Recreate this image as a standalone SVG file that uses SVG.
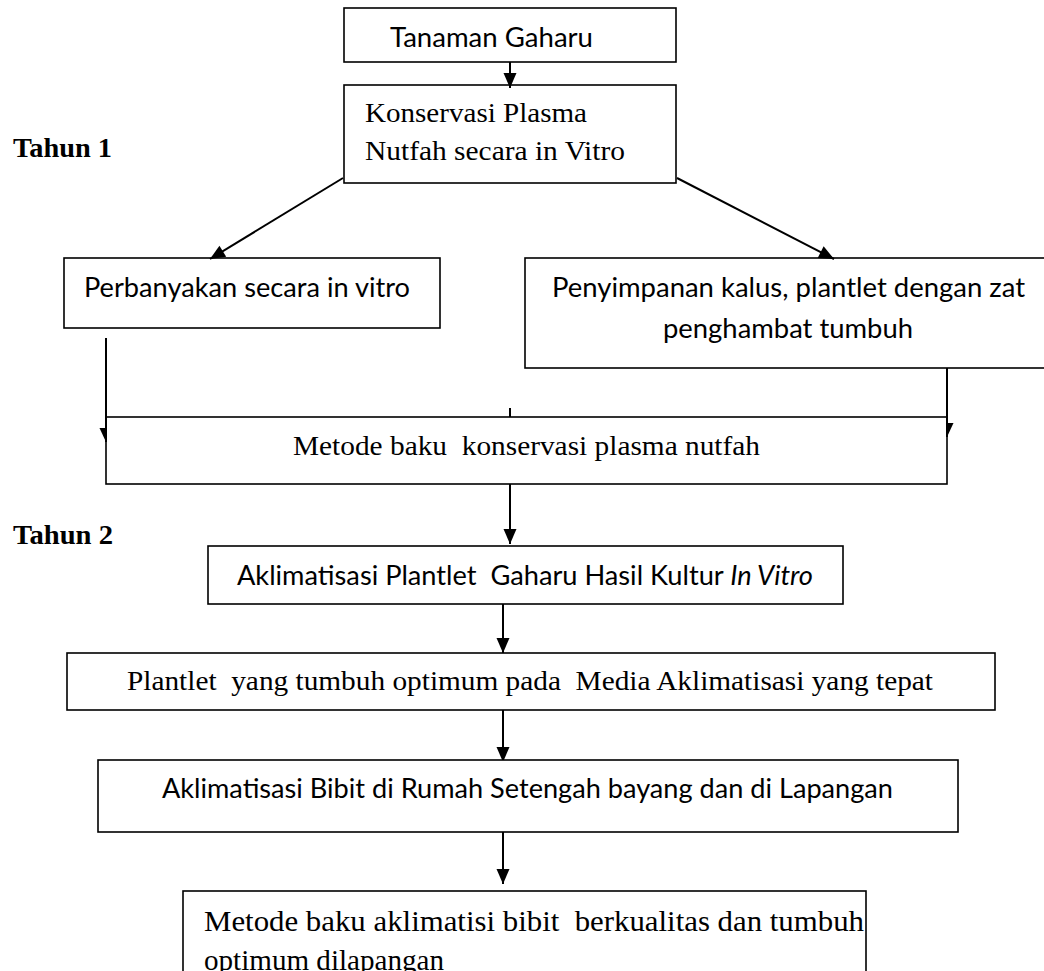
<svg xmlns="http://www.w3.org/2000/svg" width="1044" height="971" viewBox="0 0 1044 971">
<style>
.box{fill:#fff;stroke:#000;stroke-width:1.6}
.ln{fill:none;stroke:#000;stroke-width:2}
.cal{font-family:Lato,"Liberation Sans",sans-serif;font-size:27px;fill:#000}
.tnr{font-family:"Liberation Serif","Times New Roman",serif;font-size:28px;fill:#000}
.tall{font-size:30px}
.lbl{font-family:"Liberation Serif","Times New Roman",serif;font-size:28px;font-weight:bold;fill:#000}
</style>
<defs>
<marker id="ah" markerUnits="userSpaceOnUse" markerWidth="16" markerHeight="14" refX="15" refY="0" viewBox="0 -7 16 14" orient="auto" overflow="visible"><path d="M0,-6.5 L15,0 L0,6.5 z" fill="#000"/></marker>
<marker id="ahL" markerUnits="userSpaceOnUse" markerWidth="16" markerHeight="14" refX="14" refY="0" viewBox="0 -7 16 14" orient="auto" overflow="visible"><path d="M0,0 L14,0 L0,6.5 z" fill="#000"/></marker>
<marker id="ahR" markerUnits="userSpaceOnUse" markerWidth="16" markerHeight="14" refX="14" refY="0" viewBox="0 -7 16 14" orient="auto" overflow="visible"><path d="M0,-6.5 L14,0 L0,0 z" fill="#000"/></marker>
</defs>
<rect width="1044" height="971" fill="#fff"/>
<g id="labels">
<text class="lbl" x="13" y="157" textLength="99" lengthAdjust="spacingAndGlyphs">Tahun 1</text>
<text class="lbl" x="13" y="544" textLength="100" lengthAdjust="spacingAndGlyphs">Tahun 2</text>
</g>
<g id="n-tanaman">
<rect class="box" x="344" y="8" width="332" height="54"/>
<text class="cal" x="390" y="47" textLength="203" lengthAdjust="spacingAndGlyphs">Tanaman Gaharu</text>
</g>
<g id="n-konservasi">
<rect class="box" x="344" y="85" width="332" height="98"/>
<text class="tnr" x="365" y="122" textLength="222" lengthAdjust="spacingAndGlyphs">Konservasi Plasma</text>
<text class="tnr" x="365" y="160" textLength="260" lengthAdjust="spacingAndGlyphs">Nutfah secara in Vitro</text>
</g>
<g id="n-perbanyakan">
<rect class="box" x="64" y="258" width="376" height="70"/>
<text class="cal" x="84" y="297" textLength="326" lengthAdjust="spacingAndGlyphs">Perbanyakan secara in vitro</text>
</g>
<g id="n-penyimpanan">
<rect class="box" x="525" y="258" width="520" height="110"/>
<text class="cal" x="552" y="297" textLength="473" lengthAdjust="spacingAndGlyphs">Penyimpanan kalus, plantlet dengan zat</text>
<text class="cal" x="663" y="338" textLength="250" lengthAdjust="spacingAndGlyphs">penghambat tumbuh</text>
</g>
<g id="connectors">
<line class="ln" x1="510" y1="62" x2="510" y2="88" marker-end="url(#ah)"/>
<line class="ln" x1="343" y1="178" x2="210" y2="259" marker-end="url(#ah)"/>
<line class="ln" x1="677" y1="178" x2="834" y2="259" marker-end="url(#ah)"/>
<line class="ln" x1="106" y1="338" x2="106" y2="442" marker-end="url(#ahL)"/>
<line class="ln" x1="947" y1="368" x2="947" y2="437" marker-end="url(#ahR)"/>
<line class="ln" x1="510" y1="408" x2="510" y2="417"/>
<line class="ln" x1="510" y1="484" x2="510" y2="544" marker-end="url(#ah)"/>
<line class="ln" x1="503" y1="604" x2="503" y2="653" marker-end="url(#ah)"/>
<line class="ln" x1="503" y1="710" x2="503" y2="762" marker-end="url(#ah)"/>
<line class="ln" x1="503" y1="832" x2="503" y2="884" marker-end="url(#ah)"/>
</g>
<g id="n-metode">
<rect class="box" x="106" y="417" width="841" height="67" style="fill:none"/>
<text class="tnr" x="293" y="455" textLength="467" lengthAdjust="spacingAndGlyphs" xml:space="preserve">Metode baku  konservasi plasma nutfah</text>
</g>
<g id="n-aklimatisasi-plantlet">
<rect class="box" x="208" y="546" width="635" height="58"/>
<text class="cal" x="237" y="585" textLength="576" lengthAdjust="spacingAndGlyphs" xml:space="preserve">Aklimatisasi Plantlet  Gaharu Hasil Kultur <tspan font-style="italic">In Vitro</tspan></text>
</g>
<g id="n-plantlet">
<rect class="box" x="67" y="653" width="928" height="57"/>
<text class="tnr" x="127" y="690" textLength="806" lengthAdjust="spacingAndGlyphs" xml:space="preserve">Plantlet  yang tumbuh optimum pada  Media Aklimatisasi yang tepat</text>
</g>
<g id="n-aklimatisasi-bibit">
<rect class="box" x="98" y="760" width="860" height="72"/>
<text class="cal" x="162" y="798" textLength="731" lengthAdjust="spacingAndGlyphs">Aklimatisasi Bibit di Rumah Setengah bayang dan di Lapangan</text>
</g>
<g id="n-metode-aklimatisasi">
<rect class="box" x="183" y="891" width="683" height="100"/>
<text class="tnr tall" x="204" y="931" textLength="660" lengthAdjust="spacingAndGlyphs" xml:space="preserve">Metode baku aklimatisi bibit  berkualitas dan tumbuh</text>
<text class="tnr tall" x="204" y="970" textLength="240" lengthAdjust="spacingAndGlyphs">optimum dilapangan</text>
</g>
</svg>
